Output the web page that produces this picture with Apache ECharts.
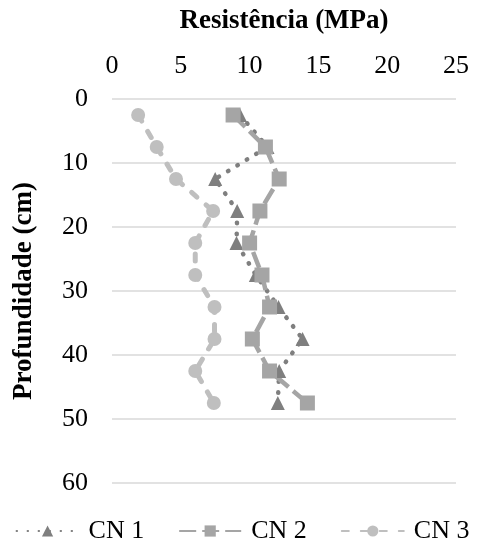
<!DOCTYPE html>
<html>
<head>
<meta charset="utf-8">
<script src="https://cdn.jsdelivr.net/npm/echarts@6/dist/echarts.min.js"></script>
<style>
html,body{margin:0;padding:0;background:#fff;}
#c{width:485px;height:553px;}
</style>
</head>
<body>
<div id="c"></div>
<script>
const depths = [2.5, 7.5, 12.5, 17.5, 22.5, 27.5, 32.5, 37.5, 42.5, 47.5];
const cn1 = [9.3, 11.3, 7.5, 9.1, 9.05, 10.45, 12.1, 13.85, 12.15, 12.05];
const cn2 = [8.8, 11.15, 12.15, 10.75, 10.0, 10.9, 11.45, 10.2, 11.45, 14.2];
const cn3 = [1.9, 3.25, 4.65, 7.35, 6.05, 6.05, 7.45, 7.45, 6.05, 7.4];
const seriesNames = ['CN 1', 'CN 2', 'CN 3'];
const xTicks = [0, 5, 10, 15, 20, 25];
const yTicks = [0, 10, 20, 30, 40, 50, 60];

const font = '"Liberation Serif", "Times New Roman", serif';
function pairs(vals){ return vals.map((v,i)=>[v, depths[i]]); }

const chart = echarts.init(document.getElementById('c'));
chart.setOption({
  animation: false,
  backgroundColor: '#fff',
  grid: {left: 112, right: 29, top: 99, bottom: 70},
  xAxis: {
    type: 'value', position: 'top', min: xTicks[0], max: xTicks[xTicks.length-1], interval: 5,
    name: 'Resistência (MPa)', nameLocation: 'middle', nameGap: 64,
    nameTextStyle: {fontFamily: font, fontSize: 27, fontWeight: 'bold', color: '#000'},
    axisLine: {show: false}, axisTick: {show: false}, splitLine: {show: false},
    axisLabel: {fontFamily: font, fontSize: 26, color: '#000', margin: 20}
  },
  yAxis: {
    type: 'value', inverse: true, min: yTicks[0], max: yTicks[yTicks.length-1], interval: 10,
    name: 'Profundidade (cm)', nameLocation: 'middle', nameGap: 74,
    nameTextStyle: {fontFamily: font, fontSize: 27, fontWeight: 'bold', color: '#000'},
    axisLine: {show: false}, axisTick: {show: false},
    splitLine: {show: true, lineStyle: {color: '#d9d9d9', width: 1.5}},
    axisLabel: {fontFamily: font, fontSize: 26, color: '#000', margin: 24}
  },
  legend: {
    bottom: 4, left: 'center', itemWidth: 62, itemHeight: 14, itemGap: 34,
    textStyle: {fontFamily: font, fontSize: 26, color: '#000', padding: [0,0,0,5]},
    data: seriesNames
  },
  series: [
    {
      name: seriesNames[0], type: 'line', data: pairs(cn1),
      symbol: 'triangle', symbolSize: 14,
      itemStyle: {color: '#7f7f7f'},
      lineStyle: {color: '#7f7f7f', width: 4.5, type: [0.5, 10.5], cap: 'round'}
    },
    {
      name: seriesNames[1], type: 'line', data: pairs(cn2),
      symbol: 'rect', symbolSize: 15,
      itemStyle: {color: '#a5a5a5'},
      lineStyle: {color: '#a5a5a5', width: 4.5, type: [17, 6], cap: 'butt'}
    },
    {
      name: seriesNames[2], type: 'line', data: pairs(cn3),
      symbol: 'circle', symbolSize: 14,
      itemStyle: {color: '#bfbfbf'},
      lineStyle: {color: '#bfbfbf', width: 5, type: [7, 12], cap: 'round'}
    }
  ]
});
</script>
</body>
</html>
